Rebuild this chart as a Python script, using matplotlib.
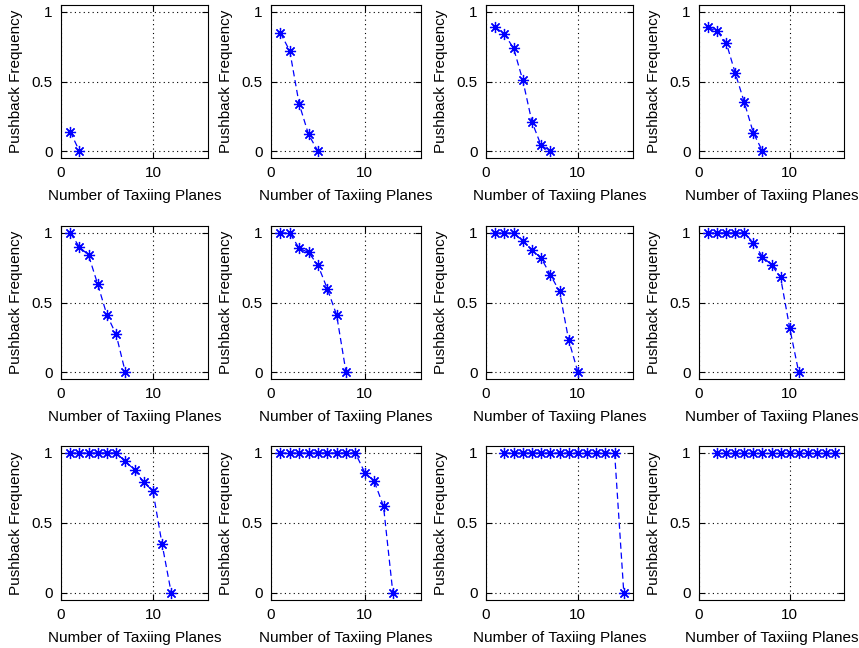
#!/usr/bin/env python3
"""Pushback frequency vs. number of taxiing planes, 3x4 grid of panels."""

import matplotlib
matplotlib.use("Agg")
import matplotlib.pyplot as plt

plt.rcParams["font.family"] = ["Liberation Sans", "DejaVu Sans"]
plt.rcParams["font.size"] = 11

# one (x, y) series per panel, row by row
x01 = [1, 2]
y01 = [0.14, 0.0]
x02 = [1, 2, 3, 4, 5]
y02 = [0.85, 0.72, 0.34, 0.12, 0.0]
x03 = [1, 2, 3, 4, 5, 6, 7]
y03 = [0.89, 0.84, 0.74, 0.51, 0.21, 0.04, 0.0]
x04 = [1, 2, 3, 4, 5, 6, 7]
y04 = [0.89, 0.86, 0.78, 0.56, 0.35, 0.13, 0.0]
x05 = [1, 2, 3, 4, 5, 6, 7]
y05 = [1.0, 0.90, 0.84, 0.63, 0.41, 0.27, 0.0]
x06 = [1, 2, 3, 4, 5, 6, 7, 8]
y06 = [1.0, 1.0, 0.89, 0.86, 0.77, 0.60, 0.41, 0.0]
x07 = [1, 2, 3, 4, 5, 6, 7, 8, 9, 10]
y07 = [1.0, 1.0, 1.0, 0.94, 0.88, 0.82, 0.70, 0.58, 0.23, 0.0]
x08 = [1, 2, 3, 4, 5, 6, 7, 8, 9, 10, 11]
y08 = [1.0, 1.0, 1.0, 1.0, 1.0, 0.93, 0.83, 0.77, 0.68, 0.32, 0.0]
x09 = [1, 2, 3, 4, 5, 6, 7, 8, 9, 10, 11, 12]
y09 = [1.0, 1.0, 1.0, 1.0, 1.0, 1.0, 0.94, 0.88, 0.79, 0.73, 0.35, 0.0]
x10 = [1, 2, 3, 4, 5, 6, 7, 8, 9, 10, 11, 12, 13]
y10 = [1.0, 1.0, 1.0, 1.0, 1.0, 1.0, 1.0, 1.0, 1.0, 0.86, 0.80, 0.62, 0.0]
x11 = [2, 3, 4, 5, 6, 7, 8, 9, 10, 11, 12, 13, 14, 15]
y11 = [1.0, 1.0, 1.0, 1.0, 1.0, 1.0, 1.0, 1.0, 1.0, 1.0, 1.0, 1.0, 1.0, 0.0]
x12 = [2, 3, 4, 5, 6, 7, 8, 9, 10, 11, 12, 13, 14, 15]
y12 = [1.0, 1.0, 1.0, 1.0, 1.0, 1.0, 1.0, 1.0, 1.0, 1.0, 1.0, 1.0, 1.0, 1.0]

series = [(x01, y01), (x02, y02), (x03, y03), (x04, y04),
          (x05, y05), (x06, y06), (x07, y07), (x08, y08),
          (x09, y09), (x10, y10), (x11, y11), (x12, y12)]

x_ticks = [0, 10]
y_ticks = [0, 0.5, 1]
y_tick_labels = ["0", "0.5", "1"]

W, H = 859, 648
# axes boxes in pixels: column left/right, row top/bottom
col_lr = [(61, 208), (271, 421), (486, 633), (699, 844)]
row_tb = [(5, 158), (226, 379), (446, 600)]

fig = plt.figure(figsize=(W / 100, H / 100), dpi=100)

for i, (xs, ys) in enumerate(series):
    r, c = divmod(i, 4)
    left, right = col_lr[c]
    top, bottom = row_tb[r]
    ax = fig.add_axes([left / W, 1 - bottom / H, (right - left) / W, (bottom - top) / H])
    ax.plot(xs, ys, color="blue", linestyle=(0, (5, 3)), linewidth=0.9,
            marker=(8, 2, 0), markersize=8, markeredgewidth=0.9,
            markeredgecolor="blue", clip_on=False)
    ax.set_xlim(0, 16)
    ax.set_ylim(-0.05, 1.05)
    ax.set_xticks(x_ticks)
    ax.set_yticks(y_ticks)
    ax.set_yticklabels(y_tick_labels)
    ax.grid(True, color="black", linestyle=(0, (1, 3)), linewidth=0.8)
    ax.tick_params(direction="in", length=4, width=0.8, top=True, right=True,
                   labelsize=11, pad=6)
    for sp in ax.spines.values():
        sp.set_linewidth(0.8)
    ax.set_xlabel("Number of Taxiing Planes", fontsize=11, labelpad=6)
    ax.set_ylabel("Pushback Frequency", fontsize=11, labelpad=6)

fig.savefig("out.png", dpi=100)
